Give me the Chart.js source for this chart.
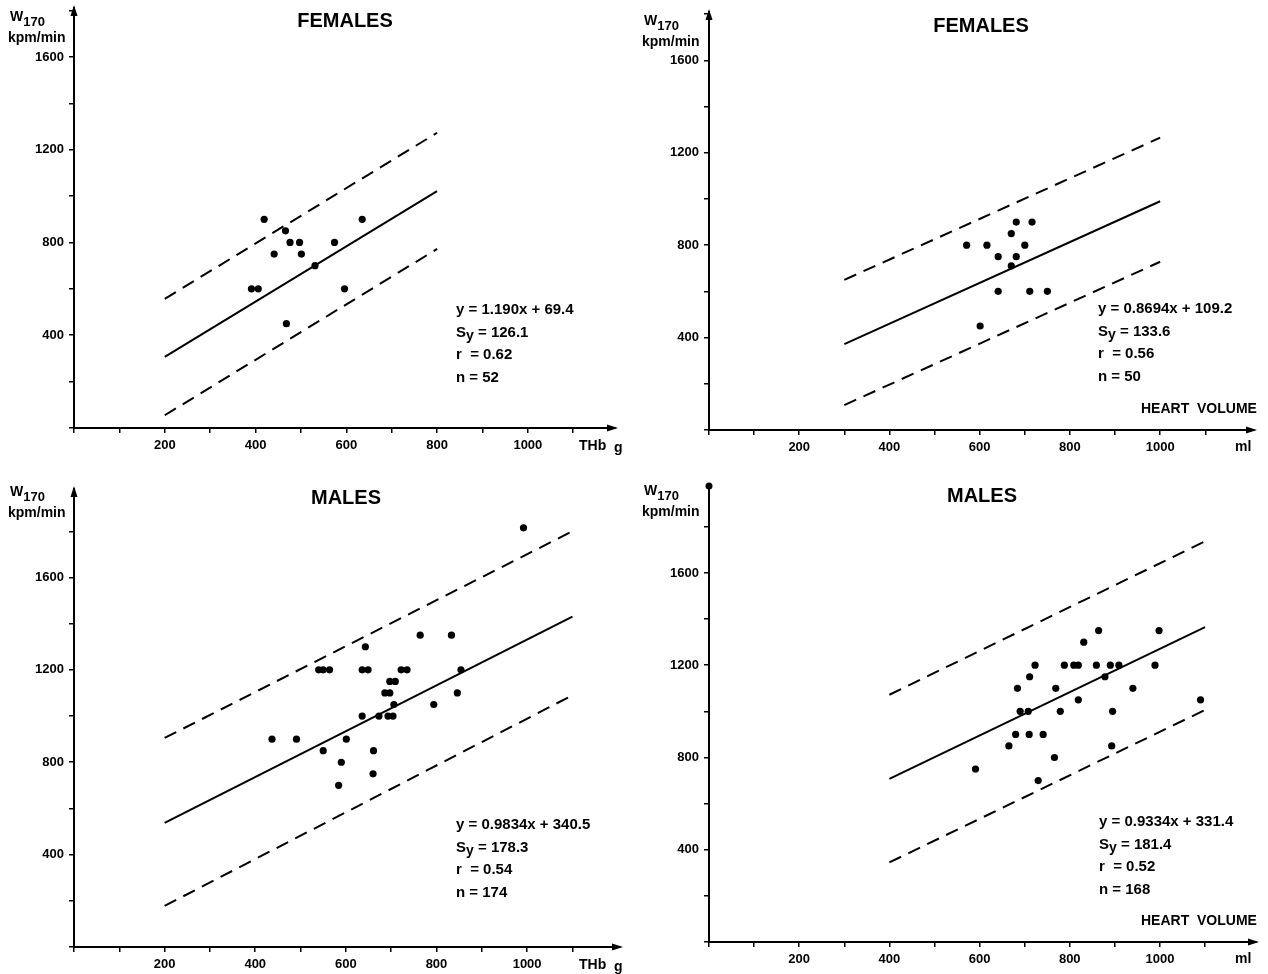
<!DOCTYPE html>
<html lang="en">
<head>
<meta charset="UTF-8">
<title>W170 vs THb and heart volume</title>
<script src="https://cdn.jsdelivr.net/npm/chart.js@4"></script>
<style>
  * { margin: 0; padding: 0; box-sizing: border-box; }
  body { background: #fff; width: 1268px; height: 974px; position: relative; overflow: hidden; }
  canvas { position: absolute; }
</style>
</head>
<body>
<canvas id="c0" width="634" height="474" style="left:0;top:0"></canvas>
<canvas id="c1" width="634" height="474" style="left:634px;top:0"></canvas>
<canvas id="c2" width="634" height="500" style="left:0;top:474px"></canvas>
<canvas id="c3" width="634" height="500" style="left:634px;top:474px"></canvas>
<script>
// ---------- data ----------

// females, total haemoglobin (g)
const femThbX = [419, 466, 476, 497, 441, 501, 531, 574, 635, 391, 406, 596, 468];
const femThbY = [900, 850, 800, 800, 750, 750, 700, 800, 900, 600, 600, 600, 450];
const femThbFit   = [[200, 307], [800, 1021]];
const femThbUpper = [[200, 557], [800, 1273]];
const femThbLower = [[200, 55],  [800, 772]];
const femThbStats = ['1.190x + 69.4', '126.1', '0.62', '52'];

// females, heart volume (ml)
const femHvX = [571, 616, 641, 681, 670, 681, 716, 700, 670, 641, 711, 750, 601];
const femHvY = [800, 800, 750, 750, 850, 900, 900, 800, 710, 600, 600, 600, 450];
const femHvFit   = [[300, 372], [1000, 990]];
const femHvUpper = [[300, 650], [1000, 1265]];
const femHvLower = [[300, 108], [1000, 728]];
const femHvStats = ['0.8694x + 109.2', '133.6', '0.56', '50'];

// males, total haemoglobin (g)
const maleThbX = [992, 437, 491, 550, 590, 584, 601, 661, 660, 636, 673, 693, 704, 706, 686, 697,
                  697, 709, 540, 550, 564, 636, 649, 643, 722, 735, 764, 833, 854, 846, 794];
const maleThbY = [1815, 900, 900, 850, 800, 700, 900, 850, 750, 1000, 1000, 1000, 1000, 1050, 1100, 1100,
                  1150, 1150, 1200, 1200, 1200, 1200, 1200, 1300, 1200, 1200, 1350, 1350, 1200, 1100, 1050];
const maleThbFit   = [[200, 537], [1100, 1430]];
const maleThbUpper = [[200, 905], [1100, 1800]];
const maleThbLower = [[200, 178], [1100, 1090]];
const maleThbStats = ['0.9834x + 340.5', '178.3', '0.54', '174'];

// males, heart volume (ml)
const maleHvX = [591, 665, 680, 710, 741, 730, 766, 690, 708, 779, 684, 711, 723, 769, 788,
                 809, 819, 819, 831, 864, 859, 878, 890, 909, 895, 893, 940, 989, 998, 1090];
const maleHvY = [750, 850, 900, 900, 900, 700, 800, 1000, 1000, 1000, 1100, 1150, 1200, 1100, 1200,
                 1200, 1200, 1050, 1300, 1350, 1200, 1150, 1200, 1200, 1000, 850, 1100, 1200, 1350, 1050];
const maleHvFit   = [[400, 707], [1100, 1365]];
const maleHvUpper = [[400, 1072], [1100, 1737]];
const maleHvLower = [[400, 345], [1100, 1006]];
const maleHvStats = ['0.9334x + 331.4', '181.4', '0.52', '168'];

// axis ticks (every tick gets a mark, only some get a label)
const xTickVals   = [0, 100, 200, 300, 400, 500, 600, 700, 800, 900, 1000, 1100];
const xTickLabels = ['', '', '200', '', '400', '', '600', '', '800', '', '1000', ''];
const yTickVals   = [0, 200, 400, 600, 800, 1000, 1200, 1400, 1600, 1800];
const yTickLabels = ['', '', '400', '', '800', '', '1200', '', '1600', ''];

// ---------- layout / style ----------

const FONT = '"Liberation Sans", Arial, sans-serif';
const INK = '#000';

const PANELS = [
  { id: 'c0', title: 'FEMALES', x: femThbX, y: femThbY, fit: femThbFit, upper: femThbUpper, lower: femThbLower,
    stats: femThbStats, unit: 'thb', xMax: 1192, yMax: 1811, top: 8, right: 19, axisW: 74, axisH: 46,
    titleAt: [345, 21], wAt: [10, 17], statsAt: [456, 310], topMark: 'arrow' },
  { id: 'c1', title: 'FEMALES', x: femHvX, y: femHvY, fit: femHvFit, upper: femHvUpper, lower: femHvLower,
    stats: femHvStats, unit: 'hv', xMax: 1208, yMax: 1809, top: 12, right: 14, axisW: 75, axisH: 44,
    titleAt: [347, 26], wAt: [10, 21], statsAt: [464, 309], topMark: 'arrow' },
  { id: 'c2', title: 'MALES', x: maleThbX, y: maleThbY, fit: maleThbFit, upper: maleThbUpper, lower: maleThbLower,
    stats: maleThbStats, unit: 'thb', xMax: 1205, yMax: 1983, top: 15, right: 14, axisW: 74, axisH: 27,
    titleAt: [346, 24], wAt: [10, 18], statsAt: [456, 351], topMark: 'arrow' },
  { id: 'c3', title: 'MALES', x: maleHvX, y: maleHvY, fit: maleHvFit, upper: maleHvUpper, lower: maleHvLower,
    stats: maleHvStats, unit: 'hv', xMax: 1213, yMax: 1977, top: 12, right: 12, axisW: 75, axisH: 32,
    titleAt: [348, 22], wAt: [10, 17], statsAt: [465, 348], topMark: 'dot' },
];

function pts(xs, ys) { return xs.map((v, i) => ({ x: v, y: ys[i] })); }
function pairs(p) { return p.map(([x, y]) => ({ x, y })); }

// text with a subscript (W170, Sy)
function drawSub(ctx, x, y, main, sub, size, subSize, drop) {
  ctx.font = `bold ${size}px ${FONT}`;
  ctx.fillText(main, x, y);
  const w = ctx.measureText(main).width;
  ctx.font = `bold ${subSize}px ${FONT}`;
  ctx.fillText(sub, x + w, y + drop);
  return x + w + ctx.measureText(sub).width;
}

function decoPlugin(p) {
  return {
    id: 'deco',
    afterDraw(chart) {
      const ctx = chart.ctx;
      const a = chart.chartArea;
      ctx.save();
      ctx.fillStyle = INK;
      ctx.strokeStyle = INK;

      // top of y axis
      if (p.topMark === 'arrow') {
        ctx.beginPath();
        ctx.moveTo(a.left, a.top - 3);
        ctx.lineTo(a.left - 3.5, a.top + 8);
        ctx.lineTo(a.left + 3.5, a.top + 8);
        ctx.closePath();
        ctx.fill();
      } else {
        ctx.beginPath();
        ctx.arc(a.left, a.top, 3.5, 0, Math.PI * 2);
        ctx.fill();
      }
      // right end of x axis
      ctx.beginPath();
      ctx.moveTo(a.right + 3, a.bottom);
      ctx.lineTo(a.right - 8, a.bottom - 3.5);
      ctx.lineTo(a.right - 8, a.bottom + 3.5);
      ctx.closePath();
      ctx.fill();

      ctx.textBaseline = 'middle';
      ctx.textAlign = 'center';
      ctx.font = `bold 20px ${FONT}`;
      ctx.fillText(p.title, p.titleAt[0], p.titleAt[1]);

      // y unit
      ctx.textAlign = 'left';
      drawSub(ctx, p.wAt[0], p.wAt[1], 'W', '170', 14, 13, 5);
      ctx.font = `bold 14px ${FONT}`;
      ctx.fillText('kpm/min', p.wAt[0] - 2, p.wAt[1] + 21);

      // regression statistics
      const [sx, sy] = p.statsAt;
      const lh = 22.5;
      ctx.font = `bold 15px ${FONT}`;
      ctx.fillText('y = ' + p.stats[0], sx, sy);
      const ex = drawSub(ctx, sx, sy + lh, 'S', 'y', 15, 14, 4);
      ctx.font = `bold 15px ${FONT}`;
      ctx.fillText(' = ' + p.stats[1], ex, sy + lh);
      ctx.fillText('r  = ' + p.stats[2], sx, sy + 2 * lh);
      ctx.fillText('n = ' + p.stats[3], sx, sy + 3 * lh);

      // x unit
      ctx.font = `bold 14px ${FONT}`;
      if (p.unit === 'thb') {
        ctx.fillText('THb', a.left + 505, a.bottom + 18);
        ctx.fillText('g', a.left + 540, a.bottom + 20);
      } else {
        ctx.fillText('HEART  VOLUME', a.left + 432, a.bottom - 21);
        ctx.fillText('ml', a.left + 526, a.bottom + 17);
      }
      ctx.restore();
    },
  };
}

function lineSet(data, dash) {
  return {
    data: pairs(data), showLine: true, pointRadius: 0, borderColor: INK,
    borderWidth: 2, borderDash: dash, fill: false,
  };
}

const tickFont = { family: FONT, size: 13, weight: 'bold' };

for (const p of PANELS) {
  new Chart(document.getElementById(p.id), {
    type: 'scatter',
    data: {
      datasets: [
        { data: pts(p.x, p.y), pointRadius: 3.6, pointBackgroundColor: INK, pointBorderWidth: 0 },
        lineSet(p.fit, []),
        lineSet(p.upper, [13, 8]),
        lineSet(p.lower, [13, 8]),
      ],
    },
    options: {
      responsive: false,
      animation: false,
      devicePixelRatio: 1,
      layout: { padding: { left: 0, top: p.top, right: p.right, bottom: 0 } },
      plugins: { legend: { display: false }, tooltip: { enabled: false } },
      scales: {
        x: {
          type: 'linear', min: 0, max: p.xMax,
          afterBuildTicks: s => { s.ticks = xTickVals.map(v => ({ value: v })); },
          afterFit: s => { s.height = p.axisH; s.paddingLeft = 0; s.paddingRight = 0; },
          border: { display: true, color: INK, width: 2 },
          grid: { drawOnChartArea: false, drawTicks: true, tickLength: 5, color: INK, lineWidth: 1.5 },
          ticks: {
            autoSkip: false, maxRotation: 0, padding: 5, color: INK, font: tickFont,
            callback: (v, i) => xTickLabels[i] ?? '',
          },
        },
        y: {
          type: 'linear', min: 0, max: p.yMax,
          afterBuildTicks: s => { s.ticks = yTickVals.map(v => ({ value: v })); },
          afterFit: s => { s.width = p.axisW; s.paddingTop = 0; s.paddingBottom = 0; },
          border: { display: true, color: INK, width: 2 },
          grid: { drawOnChartArea: false, drawTicks: true, tickLength: 5, color: INK, lineWidth: 1.5 },
          ticks: {
            autoSkip: false, padding: 5, color: INK, font: tickFont,
            callback: (v, i) => yTickLabels[i] ?? '',
          },
        },
      },
    },
    plugins: [decoPlugin(p)],
  });
}
</script>
</body>
</html>
